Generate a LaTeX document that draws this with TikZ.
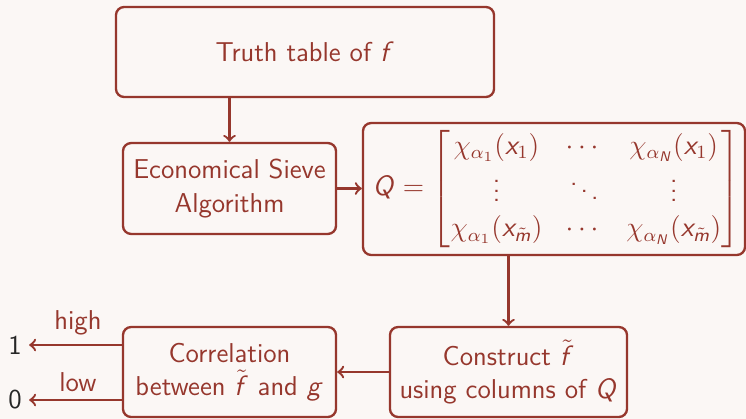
\documentclass[tikz,border=0pt]{standalone}
\usepackage{amsmath}
\usepackage{fontspec}
\DeclareSymbolFont{sfop}{OT1}{cmss}{m}{n}
\DeclareSymbolFont{sflet}{OT1}{cmss}{m}{sl}
\DeclareMathSymbol{f}{\mathalpha}{sflet}{`f}
\DeclareMathSymbol{g}{\mathalpha}{sflet}{`g}
\DeclareMathSymbol{m}{\mathalpha}{sflet}{`m}
\DeclareMathSymbol{x}{\mathalpha}{sflet}{`x}
\DeclareMathSymbol{N}{\mathalpha}{sflet}{`N}
\DeclareMathSymbol{Q}{\mathalpha}{sflet}{`Q}
\DeclareMathSymbol{1}{\mathalpha}{sfop}{`1}
\DeclareMathSymbol{(}{\mathopen}{sfop}{`(}
\DeclareMathSymbol{)}{\mathclose}{sfop}{`)}
\definecolor{dred}{RGB}{150,55,45}
\definecolor{bg}{RGB}{251,247,245}
\begin{document}
\begin{tikzpicture}[x=0.429pt,y=-0.429pt,
  box/.style={draw=dred, line width=1pt, rounded corners=3.5pt, text=dred,
    font=\sffamily\fontsize{11.7}{14.2}\selectfont, align=center, inner sep=0pt},
  lab/.style={text=dred, font=\sffamily\fontsize{11.7}{14.2}\selectfont, inner sep=0pt},
  val/.style={text=black!85, font=\sffamily\fontsize{11.7}{14.2}\selectfont, inner sep=3pt},
  arr/.style={draw=dred, line width=1pt, ->}]
\fill[bg] (0,0) rectangle (746,419);
\useasboundingbox (0,0) rectangle (746,419);
\node[box, minimum width=162.2pt, minimum height=38.6pt] (truth) at (305,52) {Truth table of $f$};
\node[box, minimum width=91.4pt, minimum height=39pt] (econ) at (229.5,188.5) {Economical Sieve\\Algorithm};
\node[box, minimum width=163.9pt, minimum height=56.6pt] (Q) at (554,189)
  {\hspace{2pt}\setlength{\arraycolsep}{5pt}$Q=\begin{bmatrix}\chi_{\alpha_1}(x_1) & \cdots & \chi_{\alpha_N}(x_1)\\[1pt]
    \vdots & \ddots & \vdots\\[1pt]
    \chi_{\alpha_1}(x_{\tilde m}) & \cdots & \chi_{\alpha_N}(x_{\tilde m})\end{bmatrix}$};
\node[box, minimum width=101.7pt, minimum height=38.6pt] (constr) at (508.5,372) {Construct $\tilde f$\\using columns of $Q$};
\node[box, minimum width=91.4pt, minimum height=38.6pt] (corr) at (229.5,372) {Correlation\\between $\tilde f$ and $g$};
\node[val] (one) at (15,345) {1};
\node[val] (zero) at (15,400) {0};
\node[lab] (high) at (78,323) {high};
\node[lab] (low) at (78,382) {low};
\draw[arr] (econ.north |- truth.south) -- (econ.north);
\draw[arr] (econ.east) -- (econ.east -| Q.west);
\draw[arr] (constr.north |- Q.south) -- (constr.north);
\draw[arr] (constr.west) -- (corr.east);
\draw[arr] (one -| corr.west) -- (one);
\draw[arr] (zero -| corr.west) -- (zero);
\end{tikzpicture}
\end{document}
